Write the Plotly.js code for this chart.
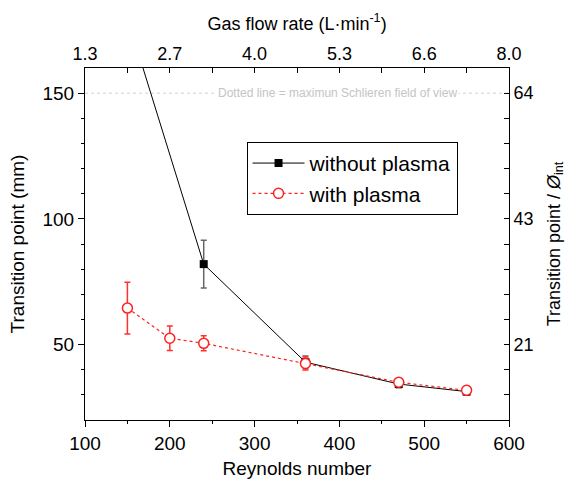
<!DOCTYPE html>
<html><head><meta charset="utf-8">
<script src="https://cdn.plot.ly/plotly-3.0.1.min.js"></script>
<style>html,body{margin:0;padding:0;background:#fff}#c{width:568px;height:489px}</style>
</head><body><div id="c"></div>
<script>
var reNoPlasma = [150, 240, 360, 470, 550];
var tpNoPlasma = [180, 82, 43, 34.3, 31.3];
var errNoPlasma = [0, 9.5, 2.5, 1.5, 1.5];

var rePlasma = [150, 200, 240, 360, 470, 550];
var tpPlasma = [64.5, 52.5, 50.5, 42.5, 35, 31.8];
var errPlasma = [10.3, 4.9, 3, 2.6, 1.6, 1.6];

var reTicks = [100, 200, 300, 400, 500, 600];
var flowLabels = ['1.3', '2.7', '4.0', '5.3', '6.6', '8.0'];
var leftTicks = [50, 100, 150];
var ratioLabels = ['21', '43', '64'];
var fieldOfView = 150;

var F = 'Arial, "Liberation Sans", sans-serif';
var traces = [
  {x: reNoPlasma, y: tpNoPlasma, type: 'scatter', mode: 'lines+markers', name: 'without plasma',
   line: {color: '#000', width: 1}, marker: {symbol: 'square', size: 8, color: '#000'},
   error_y: {type: 'data', array: errNoPlasma, visible: true, color: '#666', thickness: 1.5, width: 3}},
  {x: rePlasma, y: tpPlasma, type: 'scatter', mode: 'lines+markers', name: 'with plasma',
   line: {color: '#ff2020', width: 1.2, dash: 'dot'},
   marker: {symbol: 'circle', size: 10, color: '#fff', line: {width: 1.5, color: '#ff2020'}},
   error_y: {type: 'data', array: errPlasma, visible: true, color: '#ff3030', thickness: 1.5, width: 3}},
  {x: rePlasma, y: tpPlasma, xaxis: 'x2', yaxis: 'y2', type: 'scatter', mode: 'markers',
   marker: {opacity: 0}, showlegend: false, hoverinfo: 'skip'}
];
var minorRe = [150, 250, 350, 450, 550];
var minorY = [30, 40, 60, 70, 80, 90, 110, 120, 130, 140];
var layout = {
  width: 568, height: 489,
  margin: {l: 85, r: 59, t: 68, b: 69},
  paper_bgcolor: '#fff', plot_bgcolor: '#fff',
  font: {family: F, size: 19, color: '#000'},
  showlegend: true,
  legend: {x: 0.381, y: 0.79, xanchor: 'left', yanchor: 'top', bordercolor: '#000', borderwidth: 1,
           bgcolor: '#fff', font: {family: F, size: 21}, tracegroupgap: 0, itemwidth: 52},
  xaxis: {range: [100, 600], tickvals: reTicks, showline: true, linecolor: '#000', linewidth: 1,
          ticks: 'outside', ticklen: 6, tickcolor: '#000', showgrid: false, zeroline: false,
          minor: {tickmode: 'array', tickvals: minorRe, ticks: 'outside', ticklen: 3, tickcolor: '#000'},
          title: {text: 'Reynolds number', font: {family: F, size: 19}, standoff: 8}},
  yaxis: {range: [20, 160], tickvals: leftTicks, showline: true, linecolor: '#000', linewidth: 1,
          ticks: 'outside', ticklen: 6, tickcolor: '#000', showgrid: false, zeroline: false,
          minor: {tickmode: 'array', tickvals: minorY, ticks: 'outside', ticklen: 3, tickcolor: '#000'},
          title: {text: 'Transition point (mm)', font: {family: F, size: 19}, standoff: 12}},
  xaxis2: {overlaying: 'x', side: 'top', range: [100, 600], tickmode: 'array', tickvals: reTicks, ticktext: flowLabels,
           showline: true, linecolor: '#000', linewidth: 1, ticks: 'inside', ticklen: 5, tickcolor: '#000',
           showgrid: false, zeroline: false,
           minor: {tickmode: 'array', tickvals: minorRe, ticks: 'inside', ticklen: 5, tickcolor: '#000'},
           title: {text: 'Gas flow rate (L·min<sup>-1</sup>)', font: {family: F, size: 18}, standoff: 8},
           tickfont: {size: 18}},
  yaxis2: {overlaying: 'y', side: 'right', range: [20, 160], tickmode: 'array', tickvals: leftTicks, ticktext: ratioLabels,
           showline: true, linecolor: '#000', linewidth: 1, ticks: 'inside', ticklen: 5, tickcolor: '#000',
           showgrid: false, zeroline: false,
           minor: {tickmode: 'array', tickvals: minorY, ticks: 'inside', ticklen: 5, tickcolor: '#000'},
           title: {text: 'Transition point / <i>Ø</i><sub>int</sub>', font: {family: F, size: 18}, standoff: 14},
           tickfont: {size: 18}},
  shapes: [{type: 'line', xref: 'paper', x0: 0, x1: 1, yref: 'y', y0: fieldOfView, y1: fieldOfView,
            line: {color: '#d0d0d0', width: 1, dash: 'dot'}, layer: 'below'}],
  annotations: [{xref: 'x', yref: 'y', x: 398, y: fieldOfView, text: 'Dotted line = maximun Schlieren field of view',
                 showarrow: false, font: {family: F, size: 12, color: '#c4c4c4'}, bgcolor: '#fff', borderpad: 1}]
};
Plotly.newPlot('c', traces, layout, {displayModeBar: false, staticPlot: true});
</script></body></html>
